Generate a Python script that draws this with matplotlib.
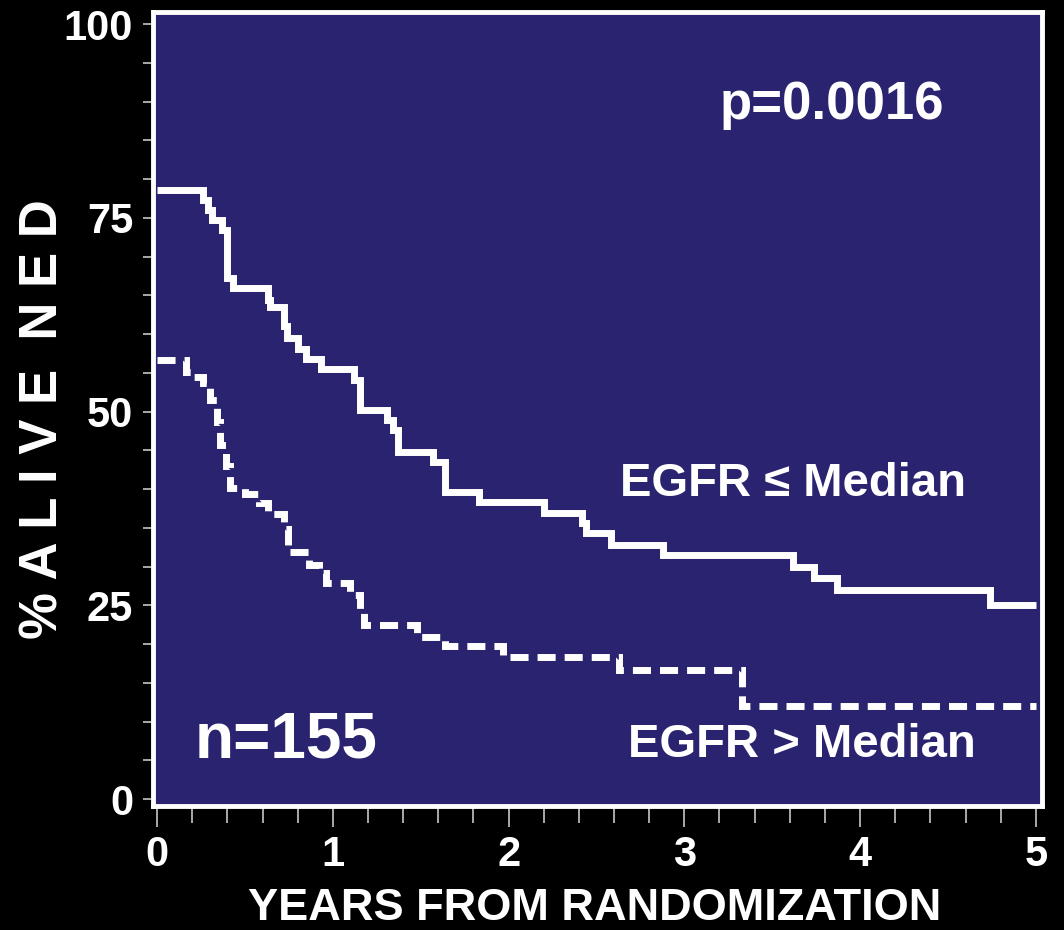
import matplotlib
matplotlib.use("Agg")
import matplotlib.pyplot as plt
from matplotlib.ticker import MultipleLocator

# Kaplan-Meier curves (years, % alive NED after each step)
low_t = [0.0, 0.26, 0.29, 0.31, 0.37, 0.40, 0.43, 0.63, 0.645, 0.72, 0.74, 0.80,
         0.85, 0.93, 1.12, 1.155, 1.31, 1.34, 1.37, 1.57, 1.64, 1.83, 2.20, 2.42,
         2.44, 2.58, 2.88, 3.62, 3.74, 3.87, 4.74, 5.0]
low_s = [78.6, 77.3, 76.0, 74.7, 73.4, 67.2, 65.9, 64.4, 63.5, 61.0, 59.5, 58.1,
         56.8, 55.5, 54.1, 50.2, 48.9, 47.6, 44.8, 43.5, 39.6, 38.3, 36.9, 35.6,
         34.3, 32.8, 31.5, 29.9, 28.5, 27.0, 25.0, 25.0]

high_t = [0.0, 0.165, 0.20, 0.26, 0.30, 0.34, 0.36, 0.39, 0.415, 0.50, 0.58, 0.63,
          0.72, 0.745, 0.865, 0.92, 0.96, 1.10, 1.155, 1.18, 1.48, 1.64, 1.97,
          2.63, 3.33, 5.0]
high_s = [56.6, 55.1, 54.5, 53.7, 51.5, 48.6, 45.7, 43.0, 40.2, 39.3, 38.2, 36.8,
          34.8, 31.9, 30.2, 29.2, 27.9, 26.3, 24.1, 22.4, 20.9, 19.7, 18.3,
          16.6, 12.0, 12.0]

y_ticks = [0, 25, 50, 75, 100]
x_ticks = [0, 1, 2, 3, 4, 5]

NAVY = '#2a2370'
FONT = 'Liberation Sans'

plt.rcParams['font.family'] = [FONT, 'DejaVu Sans']
plt.rcParams['font.weight'] = 'bold'
plt.rcParams['lines.scale_dashes'] = False

fig = plt.figure(figsize=(10.64, 9.30), dpi=100, facecolor='black')
ax = fig.add_axes([152.5 / 1064, 1 - 806 / 930, (1042 - 152.5) / 1064, (806 - 12.5) / 930])
ax.set_facecolor(NAVY)

ax.plot(low_t, low_s, drawstyle='steps-post', color='white', lw=5,
        solid_capstyle='butt', solid_joinstyle='miter')
ax.plot(high_t, high_s, drawstyle='steps-post', color='white', lw=5,
        dashes=(13, 6.5), dash_capstyle='butt', dash_joinstyle='miter')

ax.set_xlim(-0.026, 5.035)
ax.set_ylim(-0.9, 101.5)

for sp in ax.spines.values():
    sp.set_color('white')
    sp.set_linewidth(3.5)

ax.set_xticks(x_ticks)
ax.set_yticks(y_ticks)
ax.xaxis.set_minor_locator(MultipleLocator(0.2))
ax.yaxis.set_minor_locator(MultipleLocator(5))
ax.tick_params(axis='y', which='both', direction='out', length=7.5, width=1.1,
               color='#d8d8d8', labelcolor='white', labelsize=30, pad=6.5)
ax.tick_params(axis='x', which='major', direction='out', length=15, width=1.1,
               color='#d8d8d8', labelcolor='white', labelsize=30, pad=6)
ax.tick_params(axis='x', which='minor', direction='out', length=12, width=1.1,
               color='#d8d8d8')
for lab in ax.get_xticklabels() + ax.get_yticklabels():
    lab.set_fontweight('bold')

# annotations inside the plot
ax.text(3.20, 87.7, 'p=0.0016', color='white', fontsize=38, fontweight='bold',
        ha='left', va='baseline')
ax.text(2.634, 39.1, 'EGFR \u2264 Median', color='white', fontsize=34,
        fontweight='bold', ha='left', va='baseline')
ax.text(2.68, 5.4, 'EGFR > Median', color='white', fontsize=34,
        fontweight='bold', ha='left', va='baseline')
ax.text(0.216, 5.4, 'n=155', color='white', fontsize=46, fontweight='bold',
        ha='left', va='baseline')

# axis titles
fig.text(595 / 1064, 0.001, 'YEARS FROM RANDOMIZATION', color='white',
         fontsize=32.5, fontweight='bold', ha='center', va='bottom')
fig.text(44 / 1064, 1 - 419 / 930, '% A L I V E  N E D', color='white',
         fontsize=38, fontweight='bold', rotation=90, ha='center', va='center')

fig.savefig('out.png', dpi=100, facecolor='black')
